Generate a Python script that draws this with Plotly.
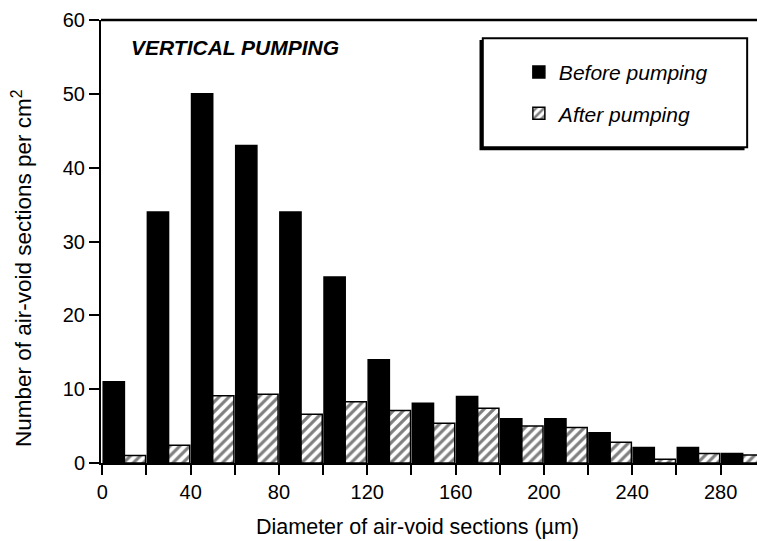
import plotly.graph_objects as go

bin_starts = [0, 20, 40, 60, 80, 100, 120, 140, 160, 180, 200, 220, 240, 260, 280]
before = [11, 34, 50, 43, 34, 25.2, 14, 8.1, 9, 6, 6, 4.1, 2.1, 2.1, 1.3]
after = [1.0, 2.4, 9.1, 9.3, 6.6, 8.3, 7.1, 5.4, 7.4, 5.0, 4.8, 2.8, 0.5, 1.3, 1.1]
x_tickvals = [0, 40, 80, 120, 160, 200, 240, 280]
y_tickvals = [0, 10, 20, 30, 40, 50, 60]

FONT = "Liberation Sans, Arial, Helvetica, sans-serif"
centers = [s + 10 for s in bin_starts]

fig = go.Figure()
fig.add_trace(go.Bar(
    x=centers, y=before, name="Before pumping", legendgroup="a",
    marker=dict(color="black", line=dict(color="black", width=1.5)),
))
fig.add_trace(go.Bar(
    x=centers, y=after, name="After pumping", legendgroup="b",
    marker=dict(color="white", line=dict(color="black", width=1.5),
                pattern=dict(shape="/", fgcolor="black", bgcolor="white",
                             size=7, solidity=0.45)),
))

fig.update_layout(
    width=757, height=541,
    margin=dict(l=101, r=0, t=20, b=78),
    paper_bgcolor="white", plot_bgcolor="white",
    barmode="group", bargap=0.04, bargroupgap=0,
    font=dict(family=FONT, size=20, color="black"),
    showlegend=True,
    legend=dict(x=0.637, y=0.928, xanchor="left", yanchor="top",
                bgcolor="rgba(0,0,0,0)", borderwidth=0,
                font=dict(family=FONT, size=21, style="italic"),
                traceorder="grouped", tracegroupgap=11),
    xaxis=dict(range=[-0.6, 296.5], tickvals=x_tickvals, showgrid=False,
               zeroline=False, showline=True, linecolor="black", linewidth=2,
               ticks="outside", ticklen=10, tickwidth=2, tickcolor="black",
               tickfont=dict(size=20),
               minor=dict(dtick=20, ticks="outside", ticklen=10, tickwidth=2, tickcolor="black"),
               automargin=False),
    yaxis=dict(range=[0, 60], tickvals=y_tickvals, showgrid=False,
               zeroline=False, showline=True, linecolor="black", linewidth=2,
               ticks="outside", ticklen=10, tickwidth=2, tickcolor="black",
               tickfont=dict(size=20),
               automargin=False),
)

# axis titles
fig.add_annotation(text="Diameter of air-void sections (µm)", xref="paper", yref="paper",
                   x=0.482, y=-0.145, xanchor="center", yanchor="middle", showarrow=False,
                   font=dict(family=FONT, size=21.5))
fig.add_annotation(text="Number of air-void sections per cm<sup>2</sup>", xref="paper", yref="paper",
                   x=-0.1204, y=0.44, xanchor="center", yanchor="middle", showarrow=False,
                   textangle=-90, font=dict(family=FONT, size=22.5))

# top frame line
fig.add_shape(type="line", xref="paper", yref="paper", x0=0, x1=1, y0=1, y1=1,
              line=dict(color="black", width=2.5))

# legend box with drop shadow
fig.add_shape(type="rect", xref="paper", yref="paper",
              x0=0.577, x1=0.981, y0=0.706, y1=0.955,
              line=dict(color="black", width=0), fillcolor="black", layer="above")
fig.add_shape(type="rect", xref="paper", yref="paper",
              x0=0.582, x1=0.985, y0=0.713, y1=0.959,
              line=dict(color="black", width=2), fillcolor="white", layer="above")

fig.add_annotation(text="<b><i>VERTICAL PUMPING</i></b>", xref="paper", yref="paper",
                   x=0.043, y=0.939, xanchor="left", yanchor="middle", showarrow=False,
                   font=dict(family=FONT, size=21))

fig.write_html("out.html")
